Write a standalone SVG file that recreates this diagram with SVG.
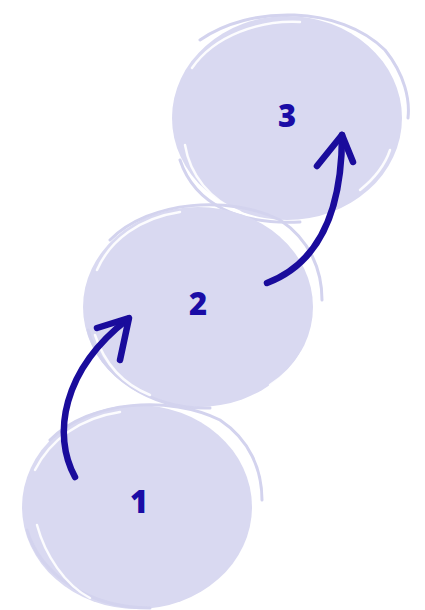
<svg xmlns="http://www.w3.org/2000/svg" width="425" height="610" viewBox="0 0 425 610">
<style>
.blob{fill:#d9d9f1}
.ring{fill:none;stroke:#d3d3ee;stroke-width:3;stroke-linecap:round}
.hl{fill:none;stroke:#ffffff;stroke-width:2.5;stroke-linecap:round;opacity:0.9}
.lbl{font-family:"Open Sans","Liberation Sans",sans-serif;font-weight:800;font-size:31px;fill:#1a0ca6;text-anchor:middle}
.arr{fill:none;stroke:#1a0c9c;stroke-width:6.5;stroke-linecap:round;stroke-linejoin:round}
</style>
<g id="node3">
<ellipse class="blob" cx="287" cy="118" rx="115" ry="102"/>
<path class="ring" d="M200,40 C250,5 340,5 385,50 C405,75 410,100 408,118"/>
<path class="ring" d="M180,160 C195,205 240,225 300,222"/>
<path class="hl" d="M192,68 C215,35 260,20 300,22"/>
<path class="hl" d="M185,145 C190,175 210,200 240,212"/>
<path class="hl" d="M360,190 C375,178 385,165 390,150"/>
<text class="lbl" x="287" y="127">3</text>
</g>
<g id="node2">
<ellipse class="blob" cx="198" cy="307" rx="115" ry="100"/>
<path class="ring" d="M110,240 C150,200 230,195 280,220 C310,240 322,270 322,300"/>
<path class="ring" d="M88,330 C100,375 150,410 210,408"/>
<path class="hl" d="M97,270 C110,240 140,218 180,212"/>
<path class="hl" d="M95,335 C105,365 125,385 150,395"/>
<path class="hl" d="M270,385 C285,375 295,365 302,352"/>
<text class="lbl" x="198" y="315">2</text>
</g>
<g id="node1">
<ellipse class="blob" cx="137" cy="507" rx="115" ry="102"/>
<path class="ring" d="M50,440 C90,400 170,395 220,420 C250,440 262,470 262,500"/>
<path class="ring" d="M27,530 C40,575 90,608 150,608"/>
<path class="hl" d="M35,470 C50,440 80,418 120,412"/>
<path class="hl" d="M37,525 C45,555 65,585 90,598"/>
<path class="hl" d="M210,590 C225,580 235,570 242,558"/>
<text class="lbl" x="139" y="513">1</text>
</g>
<g id="connectors">
<path class="arr" d="M75,477 C52,435 62,370 128,319"/>
<path class="arr" d="M97,328 L129,318 L120,360"/>
<path class="arr" d="M267,283 C322,262 342,205 342,135"/>
<path class="arr" d="M317,166 L342,135 L353,162"/>
</g>
</svg>
